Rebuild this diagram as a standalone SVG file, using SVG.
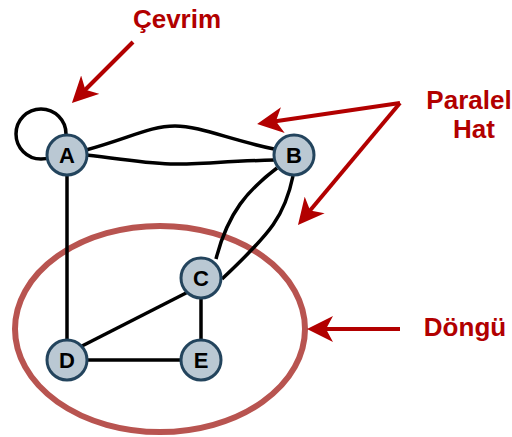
<svg xmlns="http://www.w3.org/2000/svg" width="512" height="437" viewBox="0 0 512 437">
<style>
.edge{fill:none;stroke:#000;stroke-width:3.5}
.node circle{fill:#bac8d3;stroke:#23445d;stroke-width:3}
.node text{font-family:"Liberation Sans",Arial,sans-serif;font-weight:bold;font-size:22px;fill:#000;text-anchor:middle}
.lbl{font-family:"Liberation Sans",Arial,sans-serif;font-weight:bold;font-size:26px;fill:#b20000;text-anchor:middle}
.arr{fill:none;stroke:#b20000;stroke-width:4;marker-end:url(#ah)}
</style>
<defs>
<marker id="ah" viewBox="0 0 26 26" refX="16" refY="13" markerWidth="26" markerHeight="26" markerUnits="userSpaceOnUse" orient="auto">
<path d="M0,0 L26,13 L0,26 L7,13 z" fill="#b20000"/>
</marker>
</defs>
<ellipse id="cycle" cx="160" cy="329" rx="145" ry="103" fill="none" stroke="#b85450" stroke-width="6"/>
<g id="connectors">
<circle class="edge" cx="41" cy="134" r="25"/>
<path class="edge" d="M86,150 C130,138 150,126 175,126 C200,126 230,140 274,149"/>
<path class="edge" d="M86,155 C130,160 150,164 175,164 C200,164 230,161 274,160"/>
<path class="edge" d="M277,168 C248,190 228,212 216,259"/>
<path class="edge" d="M293,176 C285,215 272,232 222,279"/>
<line class="edge" x1="67" y1="176" x2="67" y2="340"/>
<line class="edge" x1="82" y1="346" x2="188" y2="292"/>
<line class="edge" x1="201" y1="298" x2="201" y2="341"/>
<line class="edge" x1="88" y1="360" x2="181" y2="360"/>
</g>
<g id="A" class="node"><circle cx="67" cy="155" r="20"/><text x="67" y="163">A</text></g>
<g id="B" class="node"><circle cx="294" cy="155" r="20"/><text x="294" y="163">B</text></g>
<g id="C" class="node"><circle cx="201" cy="278" r="20"/><text x="201" y="286">C</text></g>
<g id="D" class="node"><circle cx="67" cy="360" r="20"/><text x="67" y="368">D</text></g>
<g id="E" class="node"><circle cx="201" cy="360" r="20"/><text x="201" y="368">E</text></g>
<g id="annotations">
<text class="lbl" x="177" y="28">Çevrim</text>
<text class="lbl" x="469" y="109">Paralel</text>
<text class="lbl" x="474" y="138">Hat</text>
<text class="lbl" x="465" y="336">Döngü</text>
<line class="arr" x1="133" y1="42" x2="79" y2="96"/>
<line class="arr" x1="400" y1="103" x2="267" y2="122.5"/>
<line class="arr" x1="400" y1="103" x2="304.4" y2="217.3"/>
<line class="arr" x1="400" y1="329" x2="317" y2="329"/>
</g>
</svg>
